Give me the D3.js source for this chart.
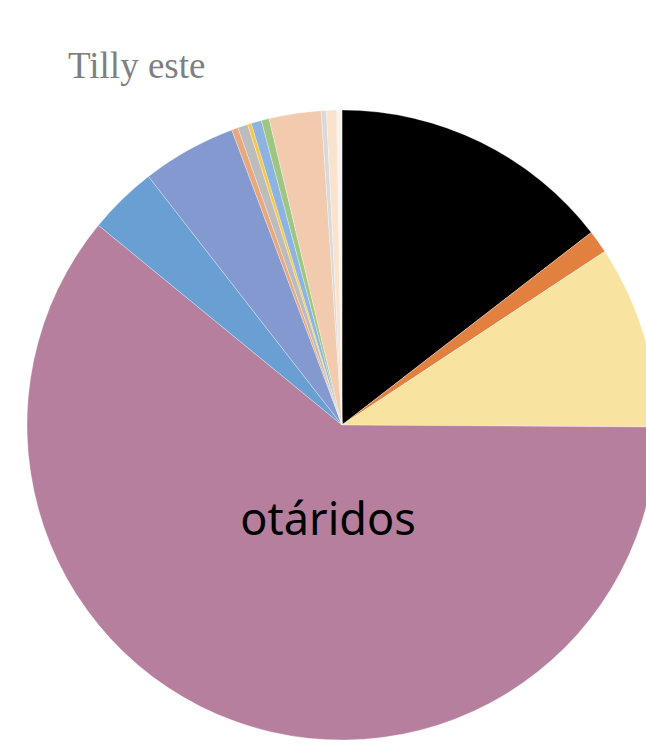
<!DOCTYPE html>
<html>
<head>
<meta charset="utf-8">
<script src="https://cdn.jsdelivr.net/npm/d3@7"></script>
<style>
  html, body { margin: 0; padding: 0; background: #fff; overflow: hidden; }
  svg { display: block; }
</style>
</head>
<body>
<svg id="chart" width="646" height="746"></svg>
<script>
// Data (percent shares, clockwise from 12 o'clock)
const categories = ["cat1", "cat2", "cat3", "otáridos", "cat5", "cat6", "cat7", "cat8",
                    "cat9", "cat10", "cat11", "cat12", "cat13", "cat14", "cat15"];
const values = [14.53, 1.18, 9.39, 60.83, 3.54, 4.84, 0.33, 0.52,
                0.19, 0.53, 0.40, 2.67, 0.26, 0.53, 0.26];
const colors = ["#000000", "#e2803f", "#f9e3a1", "#b67f9e", "#6a9fd4", "#8399d0", "#e8a77d", "#bcbcbc",
                "#f6c745", "#8db3e0", "#9dc683", "#f2cbaf", "#d9d9db", "#fae2cc", "#f7f3ef"];
const shownLabels = ["otáridos"];
const title = "Tilly este";

const data = categories.map((c, i) => ({ name: c, value: values[i], color: colors[i] }));

const svg = d3.select("#chart");
const cx = 342, cy = 425, r = 315;

const pie = d3.pie().sort(null).value(d => d.value).startAngle(0).endAngle(2 * Math.PI);
const arc = d3.arc().innerRadius(0).outerRadius(r);

const g = svg.append("g").attr("transform", `translate(${cx},${cy})`);
const arcs = pie(data);

g.selectAll("path.slice")
  .data(arcs)
  .join("path")
  .attr("class", "slice")
  .attr("d", arc)
  .attr("fill", d => d.data.color)
  .attr("stroke", "#ffffff")
  .attr("stroke-width", 0.5)
  .attr("stroke-opacity", 0.6);

// label for the big slice
const labelArc = d3.arc().innerRadius(0).outerRadius(r * 0.56);
g.selectAll("text.lbl")
  .data(arcs.filter(d => shownLabels.includes(d.data.name)))
  .join("text")
  .attr("class", "lbl")
  .attr("x", d => labelArc.centroid(d)[0])
  .attr("y", d => labelArc.centroid(d)[1])
  .attr("dx", 16)
  .attr("dy", 27)
  .attr("text-anchor", "middle")
  .attr("font-family", "'Noto Sans', 'Open Sans', sans-serif")
  .attr("font-size", 45)
  .attr("fill", "#000")
  .text(d => d.data.name);

svg.append("text")
  .attr("x", 68)
  .attr("y", 78)
  .attr("font-family", "'Liberation Serif', 'Times New Roman', serif")
  .attr("font-size", 37)
  .attr("fill", "#7f7f7f")
  .text(title);
</script>
</body>
</html>
